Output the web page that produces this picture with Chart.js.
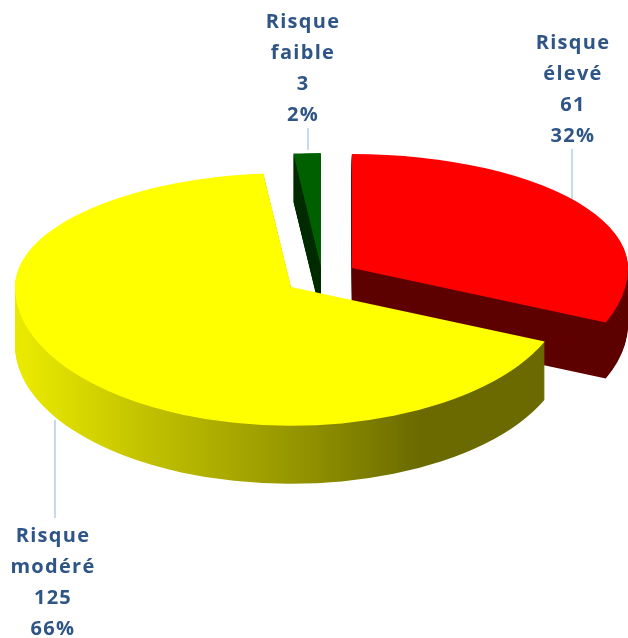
<!DOCTYPE html>
<html><head><meta charset="utf-8">
<style>html,body{margin:0;padding:0;background:#fff}canvas{display:block;filter:blur(0.45px)}</style>
<script src="https://cdn.jsdelivr.net/npm/chart.js@4/dist/chart.umd.min.js"></script>
</head><body>
<canvas id="c" width="628" height="638"></canvas>
<script>
const categories = ['Risque faible', 'Risque élevé', 'Risque modéré'];
const values = [3, 61, 125];
const percents = ['2%', '32%', '66%'];
const topColors = ['#006000', '#ff0000', '#ffff00'];

const explodeX = [0, 31, -30];
const explodeY = [-13, -12, 7];
const wallDepth = [48, 56, 58];
const labelX = [303, 573, 53];
const labelY = [22, 43, 536];
const leaderX = [308, 572, 55];
const leaderFrom = [128, 149, 420];
const leaderTo = [150, 206, 518];
const squashBack = 0.413, squashFront = 0.503;
const frontTurn = -3 * Math.PI / 180;

function wallFill(ctx, i) {
  if (i === 0) return '#002c00';
  if (i === 1) return '#5e0000';
  const g = ctx.createLinearGradient(15, 0, 546, 0);
  g.addColorStop(0, '#eaea00');
  g.addColorStop(0.08, '#dcdc00');
  g.addColorStop(0.22, '#c2c200');
  g.addColorStop(0.53, '#909000');
  g.addColorStop(0.74, '#6a6a00');
  g.addColorStop(1, '#6a6a00');
  return g;
}

function drawSquashed(ctx, el, dy, w, h) {
  const yc = Math.round(el.y);
  [[squashBack, 0, yc + dy, 0], [squashFront, yc + dy, h - yc - dy, frontTurn]].forEach(([k, top, ht, turn]) => {
    ctx.save();
    ctx.beginPath();
    ctx.rect(0, top, w, ht);
    ctx.clip();
    ctx.translate(el.x, yc + dy);
    ctx.scale(1, k);
    ctx.rotate(turn);
    ctx.translate(-el.x, -el.y);
    el.draw(ctx);
    ctx.restore();
  });
}

const piePlugin = {
  id: 'pie3d',
  afterDatasetUpdate(chart) {
    chart.getDatasetMeta(0).data.forEach((el, i) => {
      el.x += explodeX[i];
      el.y += explodeY[i];
    });
  },
  beforeDatasetsDraw(chart) {
    const ctx = chart.ctx, w = chart.width, h = chart.height;
    ctx.save();
    ctx.strokeStyle = '#b9d0ea';
    ctx.lineWidth = 1.6;
    categories.forEach((cat, i) => {
      ctx.beginPath();
      ctx.moveTo(leaderX[i], leaderFrom[i]);
      ctx.lineTo(leaderX[i], leaderTo[i]);
      ctx.stroke();
    });
    ctx.restore();
    const arcs = chart.getDatasetMeta(0).data;
    arcs.forEach((el, i) => {
      const orig = el.options;
      el.options = Object.assign({}, orig, {backgroundColor: wallFill(ctx, i)});
      for (let d = wallDepth[i]; d >= 1; d--) drawSquashed(ctx, el, d, w, h);
      el.options = orig;
    });
    arcs.forEach(el => drawSquashed(ctx, el, 0, w, h));
    return false;
  },
  afterDraw(chart) {
    const ctx = chart.ctx;
    ctx.save();
    categories.forEach((cat, i) => {
      const lines = cat.split(' ').concat([String(values[i]), percents[i]]);
      ctx.font = 'bold 20px "Open Sans"';
      ctx.letterSpacing = '1.3px';
      ctx.fillStyle = '#2f5586';
      ctx.textAlign = 'center';
      ctx.textBaseline = 'middle';
      lines.forEach((t, j) => ctx.fillText(t, labelX[i], labelY[i] + j * 31));
    });
    ctx.restore();
  }
};

new Chart(document.getElementById('c'), {
  type: 'pie',
  data: {
    labels: categories,
    datasets: [{data: values, backgroundColor: topColors, borderWidth: 0, radius: 276, clip: false}]
  },
  options: {
    responsive: false,
    animation: false,
    events: [],
    rotation: -5.75,
    layout: {padding: {left: 14, bottom: 78}},
    plugins: {legend: {display: false}, tooltip: {enabled: false}}
  },
  plugins: [piePlugin]
});
</script>
</body></html>
